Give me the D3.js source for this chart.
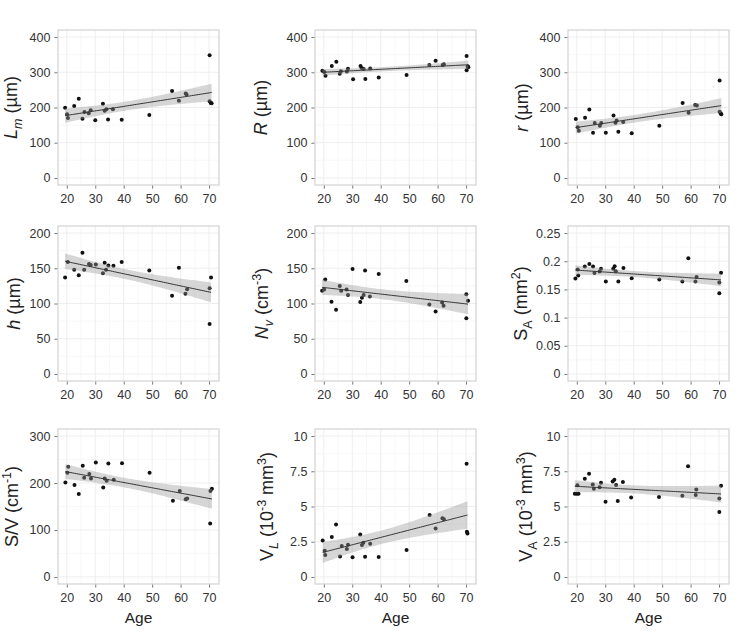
<!DOCTYPE html>
<html><head><meta charset="utf-8">
<script src="https://cdn.jsdelivr.net/npm/d3@7"></script>
<style>
body{margin:0;background:#fff}
svg{display:block}
text{font-family:"Liberation Sans",Arial,Helvetica,sans-serif}
</style>
</head><body>
<svg id="chart" width="743" height="640"></svg>
<script>
// ---------- data ----------
const xTicks = [20, 30, 40, 50, 60, 70];
const xLabel = "Age";

const lmAge = [19.4,20.1,20.4,22.6,24.2,25.5,26.2,27.7,28.4,30.0,32.7,33.3,33.9,34.5,36.2,39.3,49.0,57.0,59.4,61.8,62.1,70.2,70.2,70.6,70.9];
const lmVal = [199.5,181,170,204,225,168,187,184,192,164,211,191,195,166,195,165,179,247,219,240,237,348,218,213,212];

const rAge = [19.5,20.2,20.6,22.8,24.4,25.6,26.0,28.1,28.5,30.3,32.9,33.3,34.0,34.6,36.3,39.3,49.1,57.1,59.3,61.8,62.2,70.2,70.2,70.6,70.8];
const rVal = [304,301,290,318,330,296,303,302,310,280,318,312,309,281,311,285,292,321,333,321,323,346,306,317,314];

const rsAge = [19.65,20.3,20.7,22.9,24.4,25.7,26.3,28.1,28.6,30.2,32.9,33.6,34.0,34.6,36.3,39.3,49.0,57.2,59.3,61.6,62.2,70.2,70.2,70.6,70.8];
const rsVal = [167.5,144,134,171,194,128,156,148,156,128,177,157,163,131,159,127,148,213,185,207,206,277,188,183,181];

const hAge = [19.4,20.35,22.6,24.2,25.5,26.1,27.8,28.4,30.2,32.7,33.3,33.8,34.6,36.4,39.3,49.0,57.0,59.4,61.7,62.3,70.2,70.2,70.7];
const hVal = [137,159,148,140,172,148,156,154.5,155.5,143,158,148,154,153.5,159,147,111,150.7,113.7,120.4,71,121.8,137];

const nvAge = [19.4,20.1,20.5,22.7,24.3,25.6,26.1,28.0,28.5,30.1,32.8,33.4,34.0,34.5,36.2,39.3,49.0,57.1,59.3,61.6,62.1,70.1,70.1,70.7];
const nvVal = [118,120,134,102.4,91,125,118,120,112,149,102,108,112,147,110,142,132,98.6,88.6,101.4,96.7,113,79,104];

const saAge = [19.5,20.3,20.5,22.8,24.4,25.7,26.2,28.0,28.5,30.2,32.8,33.3,33.7,34.6,36.4,39.3,49.0,57.1,59.2,61.7,62.1,70.1,70.1,70.7];
const saVal = [0.1694,0.1854,0.1747,0.1907,0.1949,0.1907,0.1789,0.1818,0.1866,0.164,0.1866,0.1913,0.1824,0.164,0.188,0.170,0.1677,0.164,0.2055,0.164,0.172,0.1623,0.1434,0.1795];

const svAge = [19.5,20.2,20.5,22.7,24.2,25.6,26.1,27.9,28.5,30.2,32.8,33.3,34.0,34.6,36.5,39.4,49.1,57.3,59.7,61.8,62.3,70.4,70.5,71.0];
const svVal = [201,221.7,234.5,195.6,176.4,237,211,219,209.5,243.8,190.7,209.5,204.6,241.6,207,242.3,221.7,162,183,165.7,167,114,183,188];

const vlAge = [19.6,20.3,20.5,22.8,24.3,25.7,26.3,28.1,28.5,30.1,32.8,33.4,33.9,34.5,36.3,39.3,49.1,57.2,59.3,61.7,62.2,70.2,70.3,70.5];
const vlVal = [2.59,1.86,1.56,2.83,3.73,1.46,2.19,1.98,2.29,1.39,3.02,2.26,2.43,1.44,2.36,1.42,1.91,4.39,3.44,4.17,4.1,8.04,3.2,3.09];

const vaAge = [19.3,20.0,20.2,20.6,22.8,24.3,25.6,26.0,28.0,28.5,30.1,32.6,33.2,33.8,34.4,36.2,39.1,48.9,57.1,59.1,61.8,62.0,70.1,70.1,70.7];
const vaVal = [5.91,5.91,6.5,5.91,6.97,7.33,6.57,6.26,6.36,6.69,5.34,6.78,6.9,6.52,5.39,6.74,5.63,5.67,5.77,7.85,5.82,6.2,5.56,4.61,6.47];

const ticks400 = [0, 100, 200, 300, 400];
const ticks200 = [0, 50, 100, 150, 200];
const ticks300 = [0, 100, 200, 300];
const ticksSA = [0, 0.05, 0.1, 0.15, 0.2, 0.25];
const ticks10 = [0, 2.5, 5, 7.5, 10];

// title segments: t text, i italic, s: "sub" | "sup"
const panels = [
  {x: lmAge, y: lmVal, ticks: ticks400, title: [{t:"L",i:1},{t:"m",i:1,s:"sub"},{t:" (µm)"}]},
  {x: rAge, y: rVal, ticks: ticks400, title: [{t:"R",i:1},{t:" (µm)"}]},
  {x: rsAge, y: rsVal, ticks: ticks400, title: [{t:"r",i:1},{t:" (µm)"}]},
  {x: hAge, y: hVal, ticks: ticks200, title: [{t:"h",i:1},{t:" (µm)"}]},
  {x: nvAge, y: nvVal, ticks: ticks200, title: [{t:"N",i:1},{t:"v",i:1,s:"sub"},{t:" (cm"},{t:"-3",s:"sup"},{t:")"}]},
  {x: saAge, y: saVal, ticks: ticksSA, title: [{t:"S"},{t:"A",s:"sub"},{t:" (mm"},{t:"2",s:"sup"},{t:")"}]},
  {x: svAge, y: svVal, ticks: ticks300, title: [{t:"S/V (cm"},{t:"-1",s:"sup"},{t:")"}]},
  {x: vlAge, y: vlVal, ticks: ticks10, title: [{t:"V"},{t:"L",i:1,s:"sub"},{t:" (10"},{t:"-3",s:"sup"},{t:" mm"},{t:"3",s:"sup"},{t:")"}]},
  {x: vaAge, y: vaVal, ticks: ticks10, title: [{t:"V"},{t:"A",s:"sub"},{t:" (10"},{t:"-3",s:"sup"},{t:" mm"},{t:"3",s:"sup"},{t:")"}]}
];

// ---------- layout ----------
const colLeft = [58, 315, 568];
const rowTop = [30, 226, 429];
const PW = 161, PH = 155;
const titleX = [17, 267, 528, 20, 268, 527, 18, 273, 532];
const xDomain = [16.9, 73.5];

const svg = d3.select("#chart");
svg.append("rect").attr("width", 743).attr("height", 640).attr("fill", "#fff");

function tq(df){ return 1.96 + 2.4/df + 2.9/(df*df); }

function fmt(v){ return String(+v.toFixed(3)); }

panels.forEach((p, k) => {
  const col = k % 3, row = Math.floor(k / 3);
  const L = colLeft[col], T = rowTop[row];
  const ymax = p.ticks[p.ticks.length-1];
  const pad = ymax * 0.05;
  const xs = d3.scaleLinear().domain(xDomain).range([L, L + PW]);
  const ys = d3.scaleLinear().domain([-pad, ymax + pad]).range([T + PH, T]);
  const g = svg.append("g");

  // minor grid
  const step = p.ticks[1] - p.ticks[0];
  const yMinor = p.ticks.slice(0, -1).map(v => v + step/2);
  const xMinor = [15, 25, 35, 45, 55, 65, 75].filter(v => v > xDomain[0] && v < xDomain[1]);
  g.selectAll(".ymn").data(yMinor).join("line")
    .attr("x1", L).attr("x2", L + PW).attr("y1", d => ys(d)).attr("y2", d => ys(d))
    .attr("stroke", "#f4f4f4").attr("stroke-width", 0.6);
  g.selectAll(".xmn").data(xMinor).join("line")
    .attr("y1", T).attr("y2", T + PH).attr("x1", d => xs(d)).attr("x2", d => xs(d))
    .attr("stroke", "#f4f4f4").attr("stroke-width", 0.6);
  // major grid
  g.selectAll(".ymj").data(p.ticks).join("line")
    .attr("x1", L).attr("x2", L + PW).attr("y1", d => ys(d)).attr("y2", d => ys(d))
    .attr("stroke", "#ececec").attr("stroke-width", 0.9);
  g.selectAll(".xmj").data(xTicks).join("line")
    .attr("y1", T).attr("y2", T + PH).attr("x1", d => xs(d)).attr("x2", d => xs(d))
    .attr("stroke", "#ececec").attr("stroke-width", 0.9);

  // points
  const pts = p.x.map((a, i) => [a, p.y[i]]);
  g.selectAll("circle").data(pts).join("circle")
    .attr("cx", d => xs(d[0])).attr("cy", d => ys(d[1])).attr("r", 2)
    .attr("fill", "#111");

  // linear fit + 95% CI (computed from the data)
  const n = pts.length;
  const mx = d3.mean(p.x), my = d3.mean(p.y);
  let sxx = 0, sxy = 0;
  pts.forEach(d => { sxx += (d[0]-mx)**2; sxy += (d[0]-mx)*(d[1]-my); });
  const b = sxy / sxx, a0 = my - b * mx;
  let sse = 0;
  pts.forEach(d => { sse += (d[1] - (a0 + b*d[0]))**2; });
  const s = Math.sqrt(sse / (n - 2));
  const t = tq(n - 2);
  const [x0, x1] = d3.extent(p.x);
  const grid = d3.range(0, 81).map(i => x0 + (x1 - x0) * i / 80);
  const band = grid.map(x => {
    const yh = a0 + b*x;
    const se = s * Math.sqrt(1/n + (x-mx)**2 / sxx);
    return {x, lo: yh - t*se, hi: yh + t*se, y: yh};
  });
  g.append("path").datum(band)
    .attr("d", d3.area().x(d => xs(d.x)).y0(d => ys(d.lo)).y1(d => ys(d.hi)))
    .attr("fill", "#999999").attr("fill-opacity", 0.4);
  g.append("path").datum(band)
    .attr("d", d3.line().x(d => xs(d.x)).y(d => ys(d.y)))
    .attr("fill", "none").attr("stroke", "#333").attr("stroke-width", 1);

  // border
  g.append("rect").attr("x", L).attr("y", T).attr("width", PW).attr("height", PH)
    .attr("fill", "none").attr("stroke", "#d2d2d2").attr("stroke-width", 1.2);

  // axes
  const yAxis = d3.axisLeft(ys).tickValues(p.ticks).tickSize(3).tickPadding(4).tickFormat(fmt);
  const ya = g.append("g").attr("transform", `translate(${L - 0.6},0)`).call(yAxis);
  const xAxis = d3.axisBottom(xs).tickValues(xTicks).tickSize(3).tickPadding(6).tickFormat(d3.format("d"));
  const xa = g.append("g").attr("transform", `translate(0,${T + PH + 0.6})`).call(xAxis);
  [ya, xa].forEach(ax => {
    ax.select(".domain").remove();
    ax.selectAll(".tick line").attr("stroke", "#555").attr("stroke-width", 0.8);
    ax.selectAll(".tick text").attr("fill", "#333").style("font-size", "12.5px")
      .style("font-family", '"Liberation Sans",Arial,sans-serif');
  });

  // y title
  const tt = g.append("text")
    .attr("transform", `translate(${titleX[k]},${T + PH/2}) rotate(-90)`)
    .attr("text-anchor", "middle").attr("fill", "#222").style("font-size", "18px");
  let cur = 0;
  p.title.forEach(seg => {
    const target = seg.s === "sub" ? 5 : seg.s === "sup" ? -7 : 0;
    const ts = tt.append("tspan").text(seg.t).attr("dy", target - cur);
    if (seg.i) ts.style("font-style", "italic");
    if (seg.s) ts.style("font-size", "12.5px");
    cur = target;
  });

  // x title on bottom row
  if (row === 2) {
    g.append("text").attr("x", L + PW/2).attr("y", 623)
      .attr("text-anchor", "middle").attr("fill", "#222").style("font-size", "15.5px")
      .text(xLabel);
  }
});
</script>
</body></html>
